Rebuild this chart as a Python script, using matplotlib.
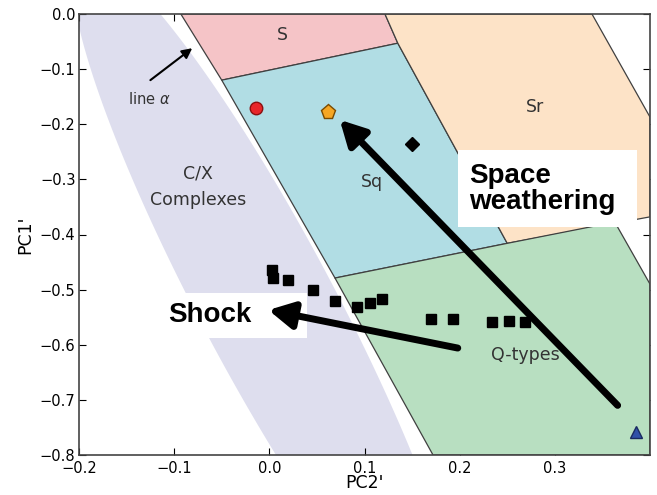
import numpy as np
import matplotlib
matplotlib.use('Agg')
import matplotlib.pyplot as plt
from matplotlib.patches import Polygon, Rectangle

# region outlines (PC2', PC1')
s_x = [-0.093, 0.1215, 0.135, -0.050]
s_y = [0.0, 0.0, -0.053, -0.120]
sq_x = [-0.050, 0.135, 0.250, 0.069]
sq_y = [-0.120, -0.053, -0.416, -0.479]
sr_x = [0.1215, 0.339, 0.40, 0.40, 0.250, 0.135]
sr_y = [0.0, 0.0, -0.187, -0.368, -0.416, -0.053]
q_x = [0.069, 0.250, 0.363, 0.40, 0.40, 0.172]
q_y = [-0.479, -0.416, -0.3775, -0.490, -0.80, -0.80]

# C/X complexes: elongated ellipse (centre in data units, axes in pixels, tilt in screen)
cx_centre = (-0.002, -0.528)
cx_semi = (395, 67)
cx_tilt = -62.0

# asteroids
q_pts_x = [0.003, 0.004, 0.020, 0.046, 0.069, 0.092, 0.106, 0.118,
           0.170, 0.193, 0.234, 0.252, 0.269]
q_pts_y = [-0.465, -0.479, -0.483, -0.501, -0.521, -0.532, -0.524, -0.517,
           -0.554, -0.553, -0.559, -0.557, -0.559]
red_x, red_y = [-0.014], [-0.171]
orange_x, orange_y = [0.062], [-0.178]
diamond_x, diamond_y = [0.150], [-0.235]
tri_x, tri_y = [0.385], [-0.759]

# arrows (tail, head)
sw_tail, sw_head = (0.366, -0.710), (0.074, -0.192)
shock_tail, shock_head = (0.198, -0.606), (-0.001, -0.537)
alpha_tail, alpha_head = (-0.125, -0.120), (-0.081, -0.062)

xlim = (-0.2, 0.4)
ylim = (-0.8, 0.0)

fig = plt.figure(figsize=(6.57, 4.95), dpi=100)
ax = fig.add_axes([79/657, 40/495, 571/657, 441/495])

# ellipse built in screen pixels then mapped to data units
kx = 571 / (xlim[1] - xlim[0])
ky = 441 / (ylim[1] - ylim[0])
phi = np.linspace(0, 2*np.pi, 300)
th = np.radians(cx_tilt)
ex = cx_semi[0]*np.cos(phi)*np.cos(th) - cx_semi[1]*np.sin(phi)*np.sin(th)
ey = cx_semi[0]*np.cos(phi)*np.sin(th) + cx_semi[1]*np.sin(phi)*np.cos(th)
ell = np.column_stack([cx_centre[0] + ex/kx, cx_centre[1] + ey/ky])
ax.add_patch(Polygon(ell, closed=True, facecolor='#dedeee', edgecolor='none', zorder=1))

for xs, ys, col in [(s_x, s_y, '#f5c4c7'), (sq_x, sq_y, '#b1dde4'),
                    (sr_x, sr_y, '#fde3c7'), (q_x, q_y, '#b8dfc1')]:
    ax.add_patch(Polygon(np.column_stack([xs, ys]), closed=True,
                         facecolor=col, edgecolor='#404040', lw=0.9, zorder=2))

# white label boxes
ax.add_patch(Rectangle((-0.122, -0.588), 0.162, 0.082, facecolor='white',
                       edgecolor='none', zorder=3))
ax.add_patch(Rectangle((0.198, -0.387), 0.188, 0.140, facecolor='white',
                       edgecolor='none', zorder=3))

ax.text(0.014, -0.038, 'S', fontsize=12.5, ha='center', va='center', color='#333333', zorder=4)
ax.text(0.279, -0.169, 'Sr', fontsize=12.5, ha='center', va='center', color='#333333', zorder=4)
ax.text(0.108, -0.305, 'Sq', fontsize=12.5, ha='center', va='center', color='#333333', zorder=4)
ax.text(-0.075, -0.313, 'C/X\nComplexes', fontsize=12.5, ha='center', va='center',
        linespacing=1.6, color='#333333', zorder=4)
ax.text(0.269, -0.619, 'Q-types', fontsize=12.5, ha='center', va='center', color='#333333', zorder=4)
ax.text(-0.126, -0.154, r'line $\alpha$', fontsize=10.5, ha='center', va='center',
        color='#333333', zorder=4)

ax.text(-0.106, -0.546, 'Shock', fontsize=20, fontweight='bold', family='Liberation Sans',
        ha='left', va='center', zorder=4)
ax.text(0.210, -0.318, 'Space\nweathering', fontsize=20, fontweight='bold',
        family='Liberation Sans', ha='left', va='center', linespacing=1.0, zorder=4)

ax.annotate('', xy=sw_head, xytext=sw_tail, zorder=5,
            arrowprops=dict(arrowstyle='-|>,head_length=0.75,head_width=0.4', lw=5,
                            color='k', shrinkA=0, shrinkB=0, mutation_scale=20))
ax.annotate('', xy=shock_head, xytext=shock_tail, zorder=5,
            arrowprops=dict(arrowstyle='-|>,head_length=0.75,head_width=0.4', lw=5,
                            color='k', shrinkA=0, shrinkB=0, mutation_scale=20))
ax.annotate('', xy=alpha_head, xytext=alpha_tail, zorder=5,
            arrowprops=dict(arrowstyle='-|>,head_length=0.6,head_width=0.3', lw=1.5,
                            color='k', shrinkA=0, shrinkB=0, mutation_scale=10))

ax.plot(q_pts_x, q_pts_y, 's', color='k', ms=6.5, zorder=6)
ax.plot(red_x, red_y, 'o', color='#e8262a', mec='#8a1010', ms=9, zorder=6)
ax.plot(orange_x, orange_y, 'p', color='#f5a623', mec='#7a4a00', ms=11, zorder=6)
ax.plot(diamond_x, diamond_y, 'D', color='k', ms=7, zorder=6)
ax.plot(tri_x, tri_y, '^', color='#3050a8', mec='#1a2a60', ms=9, zorder=6)

ax.set_xlim(*xlim)
ax.set_ylim(*ylim)
ax.set_xticks([-0.2, -0.1, 0.0, 0.1, 0.2, 0.3])
ax.set_yticks([-0.8, -0.7, -0.6, -0.5, -0.4, -0.3, -0.2, -0.1, 0.0])
ax.tick_params(direction='in', top=True, right=True, labelsize=10.5, length=5)
ax.tick_params(axis='x', pad=4)
ax.tick_params(axis='y', pad=2.5)
for sp in ax.spines.values():
    sp.set_color('#444444')
    sp.set_linewidth(1.2)
ax.set_xlabel("PC2'", fontsize=12.5, labelpad=-1)
ax.set_ylabel("PC1'", fontsize=12.5, labelpad=4)

fig.savefig('out.png', dpi=100)
